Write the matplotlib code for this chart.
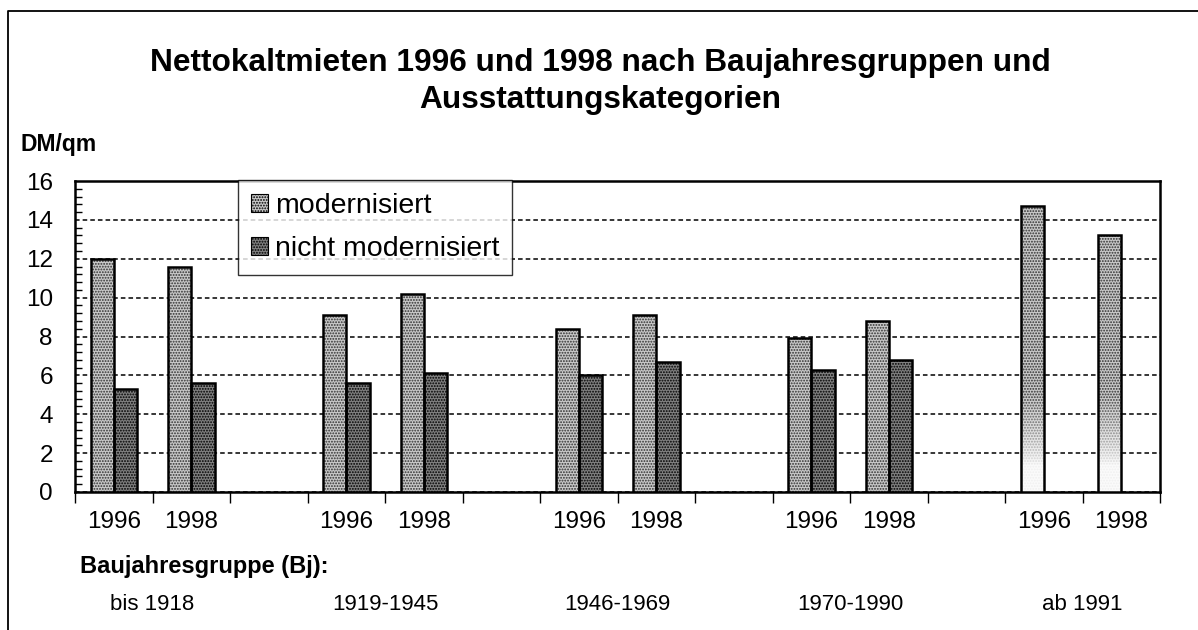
import numpy as np
import matplotlib
matplotlib.use("Agg")
import matplotlib.pyplot as plt
from matplotlib.patches import Patch
from matplotlib.lines import Line2D

plt.rcParams['font.family'] = ['Liberation Sans', 'DejaVu Sans']
plt.rcParams['hatch.linewidth'] = 0.9

# ---- data ----
groups = ['bis 1918', '1919-1945', '1946-1969', '1970-1990', 'ab 1991']
years = ['1996', '1998']
mod_1996 = [12.0, 9.1, 8.4, 7.9, 14.7]
mod_1998 = [11.6, 10.2, 9.1, 8.8, 13.2]
nicht_1996 = [5.3, 5.6, 6.0, 6.3, np.nan]
nicht_1998 = [5.6, 6.1, 6.7, 6.8, np.nan]
series_names = ['modernisiert', 'nicht modernisiert']
yticks = [0, 2, 4, 6, 8, 10, 12, 14, 16]

# build slots: 1996, 1998, blank per group (no blank after last)
slot_labels, mod_vals, nicht_vals, slot_group = [], [], [], []
for i, g in enumerate(groups):
    for y, m, n in ((years[0], mod_1996[i], nicht_1996[i]), (years[1], mod_1998[i], nicht_1998[i])):
        slot_labels.append(y); mod_vals.append(m); nicht_vals.append(n); slot_group.append(i)
    if i < len(groups) - 1:
        slot_labels.append(''); mod_vals.append(np.nan); nicht_vals.append(np.nan); slot_group.append(-1)
x = np.arange(len(slot_labels))

fig = plt.figure(figsize=(11.98, 6.30), dpi=100)
ax = fig.add_axes([75/1198, 1-492/630, (1160-75)/1198, (492-181)/630])

w = 0.30
mod_face, mod_hatch = '#c8c8c8', '#303030'
nic_face, nic_hatch = '#808080', '#000000'

mod_bars = ax.bar(x - w/2, mod_vals, w, color=mod_face, edgecolor=mod_hatch, hatch='......', linewidth=0, zorder=3)
ax.bar(x - w/2, mod_vals, w, fill=False, edgecolor='black', linewidth=1.8, zorder=4)
ax.bar(x + w/2, nicht_vals, w, color=nic_face, edgecolor=nic_hatch, hatch='......', linewidth=0, zorder=3)
ax.bar(x + w/2, nicht_vals, w, fill=False, edgecolor='black', linewidth=1.8, zorder=4)

# fade at bottom of the "ab 1991" bars
grad = np.concatenate([np.zeros(60), np.linspace(0, 1, 160) ** 0.8]).reshape(-1, 1)
cmap = matplotlib.colors.LinearSegmentedColormap.from_list('fade', [(1, 1, 1, 0.93), (1, 1, 1, 0)])
for b, gi in zip(mod_bars, slot_group):
    if gi == len(groups) - 1 and np.isfinite(b.get_height()):
        x0, wid = b.get_x(), b.get_width()
        im = ax.imshow(grad, cmap=cmap, extent=(x0, x0 + wid, 0, 5.0), origin='lower',
                       aspect='auto', zorder=3.5)
        im.set_clip_path(b)

ax.set_xlim(-0.5, len(x) - 0.5)
ax.set_ylim(0, 16)
ax.set_yticks(yticks)
ax.set_yticklabels([str(t) for t in yticks], fontsize=17.5)
ax.set_yticks(np.arange(0, 16.01, 0.4), minor=True)
ax.tick_params(axis='y', which='both', direction='in', length=5, width=1, pad=16)
ax.tick_params(axis='y', which='major', length=0)
ax.grid(axis='y', which='major', linestyle=(0, (3, 2)), color='black', linewidth=1.1, zorder=1)

ax.set_xticks(np.arange(-0.5, len(x) - 0.4, 1.0))
ax.set_xticklabels([])
ax.set_xticks(x, minor=True)
ax.set_xticklabels(slot_labels, minor=True, fontsize=17.5)
ax.tick_params(axis='x', which='major', direction='out', length=8, width=1)
ax.tick_params(axis='x', which='minor', length=0, pad=14)

for s in ax.spines.values():
    s.set_linewidth(1.8)

# group labels
for i, g in enumerate(groups):
    xs = [xx for xx, gg in zip(x, slot_group) if gg == i]
    ax.text(np.mean(xs), -(605 - 492) / 311, g, transform=ax.get_xaxis_transform(),
            ha='center', va='center', fontsize=16)
fig.text(80/1198, 1-567/630, 'Baujahresgruppe (Bj):', fontsize=17, fontweight='bold', va='center', ha='left')

fig.text(600/1198, 1-63/630, 'Nettokaltmieten 1996 und 1998 nach Baujahresgruppen und',
         fontsize=22.8, fontweight='bold', ha='center', va='center')
fig.text(600/1198, 1-100/630, 'Ausstattungskategorien', fontsize=22.8, fontweight='bold', ha='center', va='center')
fig.text(20/1198, 1-145/630, 'DM/qm', fontsize=16.5, fontweight='bold', ha='left', va='center')

handles = [Patch(facecolor=mod_face, edgecolor='black', hatch='......', linewidth=0.8),
           Patch(facecolor=nic_face, edgecolor='black', hatch='......', linewidth=0.8)]
leg = ax.legend(handles, series_names, loc='upper left', bbox_to_anchor=(238/1198, 1-180/630),
                bbox_transform=fig.transFigure, fontsize=20.5, frameon=True, fancybox=False,
                edgecolor='black', handlelength=0.6, handleheight=0.6, handletextpad=0.25,
                borderpad=0.45, labelspacing=0.6, borderaxespad=0)
leg.get_frame().set_linewidth(1.0)
leg.set_zorder(10)

# outer border (left and top only)
fig.add_artist(Line2D([8/1198, 8/1198, 1.0], [0.0, 1 - 11/630, 1 - 11/630], transform=fig.transFigure,
                      color='black', linewidth=1.3))

fig.savefig('out.png', dpi=100)
